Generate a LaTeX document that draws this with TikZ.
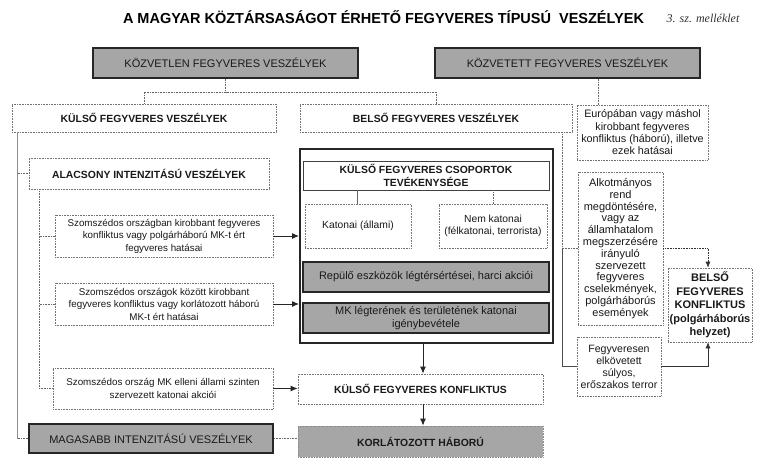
\documentclass[tikz,border=0pt]{standalone}
\usepackage{fontspec}
\setmainfont{Liberation Sans}
\newfontfamily\serifit{Liberation Serif}
\usetikzlibrary{arrows.meta,calc}
\begin{document}
\begin{tikzpicture}[x=1pt,y=-1pt,
  base/.style={align=center,inner sep=1pt,font=\fontsize{9.8}{12.5}\selectfont,text=black!90},
  dbox/.style={base,draw=black!55,densely dotted,line width=0.6pt,fill=white},
  sbox/.style={base,draw=black!75,line width=0.7pt,fill=white},
  gbox/.style={base,draw=black!85,line width=1.8pt,fill=black!35,font=\fontsize{11}{13}\selectfont},
  hb/.style={font=\bfseries\fontsize{10.4}{12.5}\selectfont},
  rt/.style={font=\fontsize{11}{11.8}\selectfont},
  dline/.style={draw=black!60,densely dotted,line width=0.6pt},
  sline/.style={draw=black!70,line width=0.6pt},
  arr/.style={draw=black!85,line width=1pt,-{Latex[length=7pt,width=6pt]}},
  darr/.style={dline,-{Latex[length=6pt,width=5pt]}}]
\fill[white] (0,0) rectangle (762,468);
\useasboundingbox (0,0) rectangle (762,468);

% title
\node[font=\bfseries\fontsize{14.5}{16}\selectfont,inner sep=0] (title) at (383.5,17) {A MAGYAR KÖZTÁRSASÁGOT ÉRHETŐ FEGYVERES TÍPUSÚ\ \ VESZÉLYEK};
\node[font=\serifit\itshape\fontsize{12}{14}\selectfont,inner sep=0,text=black!80] (mell) at (703,18) {3. sz. melléklet};

% top level
\node[gbox,minimum width=265,minimum height=30] (kozvetlen) at (225.5,63) {KÖZVETLEN FEGYVERES VESZÉLYEK};
\node[gbox,minimum width=265,minimum height=30] (kozvetett) at (567.5,63) {KÖZVETETT FEGYVERES VESZÉLYEK};

\node[dbox,hb,minimum width=264,minimum height=28] (kulso) at (144,118) {KÜLSŐ FEGYVERES VESZÉLYEK};
\node[dbox,hb,minimum width=272,minimum height=28] (belso) at (436,118) {BELSŐ FEGYVERES VESZÉLYEK};
\node[dbox,font=\fontsize{10.8}{12.3}\selectfont,minimum width=131,minimum height=55] (europa) at (642.5,132.5) {Európában vagy máshol\\kirobbant fegyveres\\konfliktus (háború), illetve\\ezek hatásai};

% left column
\node[dbox,hb,minimum width=240,minimum height=31] (alacsony) at (149,173.5) {ALACSONY INTENZITÁSÚ VESZÉLYEK};
\node[dbox,minimum width=218,minimum height=42] (sz1) at (164,236) {Szomszédos országban kirobbant fegyveres\\konfliktus vagy polgárháború MK-t ért\\fegyveres hatásai};
\node[dbox,minimum width=218,minimum height=42] (sz2) at (164,304) {Szomszédos országok között kirobbant\\fegyveres konfliktus vagy korlátozott háború\\MK-t ért hatásai};
\node[dbox,minimum width=220,minimum height=41] (sz3) at (163,388.5) {Szomszédos ország MK elleni állami szinten\\szervezett katonai akciói};
\node[gbox,minimum width=244,minimum height=29] (magasabb) at (151,438.5) {MAGASABB INTENZITÁSÚ VESZÉLYEK};

% middle
\node[draw=black!85,line width=2pt,fill=white,minimum width=253,minimum height=194,inner sep=0] (bigbox) at (426.5,246) {};
\node[sbox,hb,minimum width=246,minimum height=29] (csop) at (426,175.5) {KÜLSŐ FEGYVERES CSOPORTOK\\TEVÉKENYSÉGE};
\node[dbox,font=\fontsize{10.3}{12.5}\selectfont,minimum width=106,minimum height=44] (katonai) at (358,226) {Katonai (állami)};
\node[dbox,font=\fontsize{10.3}{12.5}\selectfont,minimum width=108,minimum height=44] (nemkat) at (493,226) {Nem katonai\\(félkatonai, terrorista)};
\node[gbox,minimum width=246,minimum height=30] (repulo) at (426,277) {Repülő eszközök légtérsértései, harci akciói};
\node[gbox,minimum width=246,minimum height=30] (mk) at (426,318) {MK légterének és területének katonai\\igénybevétele};
\node[dbox,hb,minimum width=245,minimum height=30] (kfk) at (420.5,389) {KÜLSŐ FEGYVERES KONFLIKTUS};
\node[base,hb,draw=black!45,densely dotted,line width=0.6pt,fill=black!35,minimum width=245,minimum height=31] (korl) at (420.5,441.5) {KORLÁTOZOTT HÁBORÚ};

% right column
\node[dbox,rt,minimum width=85,minimum height=153] (alkot) at (620.5,248.5) {Alkotmányos\\rend\\megdöntésére,\\vagy az\\államhatalom\\megszerzésére\\irányuló\\szervezett\\fegyveres\\cselekmények,\\polgárháborús\\események};
\node[dbox,font=\fontsize{10.6}{12}\selectfont,minimum width=84,minimum height=59] (fegyv) at (619,366.5) {Fegyveresen\\elkövetett\\súlyos,\\erőszakos terror};
\node[dbox,font=\bfseries\fontsize{11}{13.5}\selectfont,inner sep=0pt,minimum width=84,minimum height=74] (bfk) at (710,305) {BELSŐ\\FEGYVERES\\KONFLIKTUS\\(polgárháborús\\helyzet)};

% connectors top
\coordinate (hub) at (225.5,92);
\draw[dline] (kozvetlen.south) -- (hub);
\draw[dline] (kulso.north) |- (hub) -| (belso.north);
\draw[dline] (kozvetett.south -| europa.north) ++(-44.5,0) coordinate (ke) -- (ke |- europa.north);

% left vertical lines
\coordinate (l1top) at ($(kulso.south west)+(6,0)$);
\coordinate (l1bot) at (l1top |- magasabb.west);
\draw[sline,draw=black!45] (l1top) -- (l1bot);
\draw[dline] (l1top |- alacsony.west) -- (alacsony.west);
\draw[dline] (l1bot) -- (magasabb.west);

\coordinate (l2top) at ($(alacsony.south west)+(11,0)$);
\coordinate (l2bot) at (l2top |- sz3.west);
\draw[dline] (l2top) -- (l2bot) -- (sz3.west);
\draw[dline] (l2top |- sz1.west) -- (sz1.west);
\draw[dline] (l2top |- sz2.west) -- (sz2.west);

% arrows into middle
\draw[arr] (sz1.east) -- (sz1.east -| bigbox.west);
\draw[arr] (sz2.east) -- (sz2.east -| bigbox.west);
\draw[arr] (sz3.east) -- (sz3.east -| kfk.west);
\draw[dline] (magasabb.east) -- (magasabb.east -| korl.west);

\coordinate (bx) at ($(kfk.north)+(2.5,0)$);
\draw[arr] (bx |- bigbox.south) -- (bx);
\draw[arr] (bx |- kfk.south) -- (bx |- korl.north);

% inside big box
\draw[sline,draw=black!60] (katonai.north -| 357,0) coordinate (c1) (c1 |- csop.south) -- (c1 |- katonai.north);
\draw[dline] (nemkat.north |- csop.south) -- (nemkat.north);

% right connectors
\coordinate (rv) at ($(belso.south east)+(-10,0)$);
\draw[dline] (rv) -- (rv |- alkot.west) -- (alkot.west);
\draw[sline] (rv |- alkot.west) -- (rv |- fegyv.west) -- (fegyv.west);
\coordinate (bx2) at ($(bfk.north)+(-2,0)$);
\draw[darr,draw=black!80] (alkot.east) -| (bx2);
\draw[sline,draw=black!80,-{Latex[length=6pt,width=5pt]}] (fegyv.east) -| (bx2 |- bfk.south);
\end{tikzpicture}
\end{document}
